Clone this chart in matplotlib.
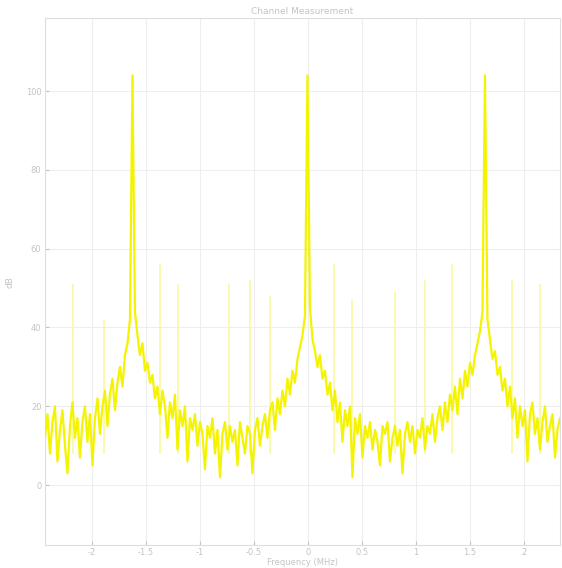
import numpy as np
import matplotlib
matplotlib.use("Agg")
import matplotlib.pyplot as plt

title = "Channel Measurement"
xlabel = "Frequency (MHz)"
ylabel = "dB"

x_ticks = [-2, -1.5, -1, -0.5, 0, 0.5, 1, 1.5, 2]
y_ticks = [0, 20, 40, 60, 80, 100]
x_min, x_max = -2.435, 2.333
y_min, y_max = -15.2, 118.5

# spectrum magnitude (dB), sampled evenly across the frequency range
spectrum = [
    12, 18, 8, 16, 20, 6, 14, 19, 10, 3, 15, 21, 12, 17, 7, 16, 20, 11, 18, 5,
    17, 22, 13, 20, 24, 15, 23, 27, 19, 26,
    30, 25, 33, 36, 42,
    104,
    44, 38, 33, 36, 29, 31, 26, 28, 22, 25,
    18, 24, 20, 12, 21, 17, 23, 9, 19, 15, 20, 6, 17, 14, 18,
    10, 16, 13, 4, 15, 12, 17, 8, 14, 2, 13, 16, 9, 15, 11, 14, 5, 16, 12, 8, 15, 13, 3, 14, 17,
    10, 15, 18, 12, 19, 21, 14, 22, 18, 24, 20, 27, 23, 29,
    26, 32, 35, 38, 43,
    104,
    45, 37, 34, 30, 33, 27, 29, 23, 26, 19,
    24, 16, 21, 11, 19, 15, 20, 2, 17, 13, 18, 7, 15, 12, 16,
    9, 14, 11, 5, 15, 13, 16, 6, 12, 15, 10, 14, 3, 13, 16, 11, 15, 8, 14, 12, 17, 9, 15, 13, 18,
    11, 17, 20, 14, 21, 16, 23, 19, 25, 18, 27, 22, 29, 25, 31,
    28, 33, 36, 39, 44,
    104,
    42, 37, 32, 34, 28, 30, 24, 27, 20, 25,
    17, 22, 12, 20, 15, 19, 6, 18, 21, 13, 17, 9, 16, 20, 11, 15, 18, 7, 14, 17,
]

# narrow spurs
spur_freq = [-2.176, -1.889, -1.370, -1.204, -0.731, -0.537, -0.352,
             0.241, 0.407, 0.806, 1.083, 1.333, 1.889, 2.148]
spur_level = [51, 42, 56, 51, 51, 52, 48, 56, 47, 49, 52, 56, 52, 51]

freq = np.linspace(x_min, x_max, len(spectrum))

fig = plt.figure(figsize=(5.62, 5.68), dpi=100)
ax = fig.add_axes([0.080, 0.0405, 0.9164, 0.9275])

txt = "#c4c4c4"
ax.grid(True, color="#eeeeee", linewidth=0.8)
ax.set_axisbelow(True)

ax.vlines(spur_freq, 8, spur_level, color="#f8f8a0", linewidth=1.2, zorder=2)
ax.plot(freq, spectrum, color="#f4f400", linewidth=1.6, zorder=3)

ax.set_xlim(x_min, x_max)
ax.set_ylim(y_min, y_max)
ax.set_xticks(x_ticks)
ax.set_xticklabels([f"{v:g}" for v in x_ticks])
ax.set_yticks(y_ticks)

for s in ax.spines.values():
    s.set_color("#dedede")
    s.set_linewidth(0.8)
ax.tick_params(colors=txt, labelsize=6, direction="in", length=3, labelcolor=txt, pad=2.5)
ax.set_title(title, fontsize=6.5, color=txt, pad=3)
ax.set_xlabel(xlabel, fontsize=6, color=txt, labelpad=0.5)
ax.set_ylabel(ylabel, fontsize=6.5, color=txt, labelpad=8)

fig.savefig("out.png", dpi=100, facecolor="white")
